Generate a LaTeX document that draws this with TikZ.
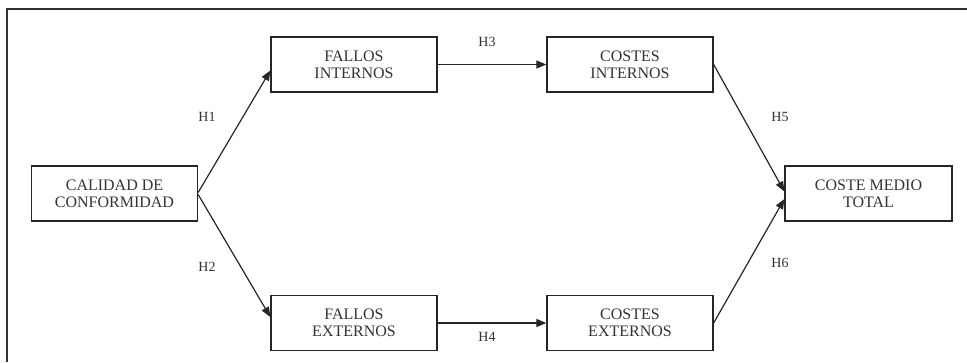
\documentclass[tikz,border=0pt]{standalone}
\usepackage{fontspec}
\setmainfont{Liberation Serif}
\usetikzlibrary{arrows.meta}
\begin{document}
\begin{tikzpicture}[x=1pt,y=-1pt,
  box/.style={draw=black!85,line width=1.3pt,rectangle,minimum width=166pt,minimum height=55pt,
    align=center,text=black!80,inner sep=0pt,font=\fontsize{16}{17}\selectfont},
  lbl/.style={text=black!80,inner sep=0pt,font=\fontsize{14}{16}\selectfont},
  arr/.style={draw=black!85,line width=1.2pt,-{Triangle[length=10pt,width=8pt]}},
  frame/.style={draw=black!80,line width=1.4pt}]
\useasboundingbox (0,0) rectangle (967,362);
\draw[frame] (7,362) -- (7,9) -- (967,9);
\node[box] (cal) at (114.5,193.5) {CALIDAD DE\\CONFORMIDAD};
\node[box] (fi) at (354,64.5) {FALLOS\\INTERNOS};
\node[box] (fe) at (354,323) {FALLOS\\EXTERNOS};
\node[box] (ci) at (630,64.5) {COSTES\\INTERNOS};
\node[box] (ce) at (630,323) {COSTES\\EXTERNOS};
\node[box,minimum width=167pt] (cm) at (868.5,193.5) {COSTE MEDIO\\TOTAL};
\draw[arr] ([yshift=1pt]cal.east) -- ([yshift=-6pt]fi.west);
\draw[arr] ([yshift=-1pt]cal.east) -- ([yshift=6pt]fe.west);
\draw[arr] (fi.east) -- (ci.west);
\draw[arr] (fe.east) -- (ce.west);
\draw[arr] (ci.east) -- ([yshift=2pt]cm.west);
\draw[arr] (ce.east) -- ([yshift=-5.5pt]cm.west);
\node[lbl] (h1) at (207,117) {H1};
\node[lbl] (h2) at (207,267) {H2};
\node[lbl] (h3) at (487,42) {H3};
\node[lbl] (h4) at (487,337) {H4};
\node[lbl] (h5) at (780,117) {H5};
\node[lbl] (h6) at (780,263) {H6};
\end{tikzpicture}
\end{document}
